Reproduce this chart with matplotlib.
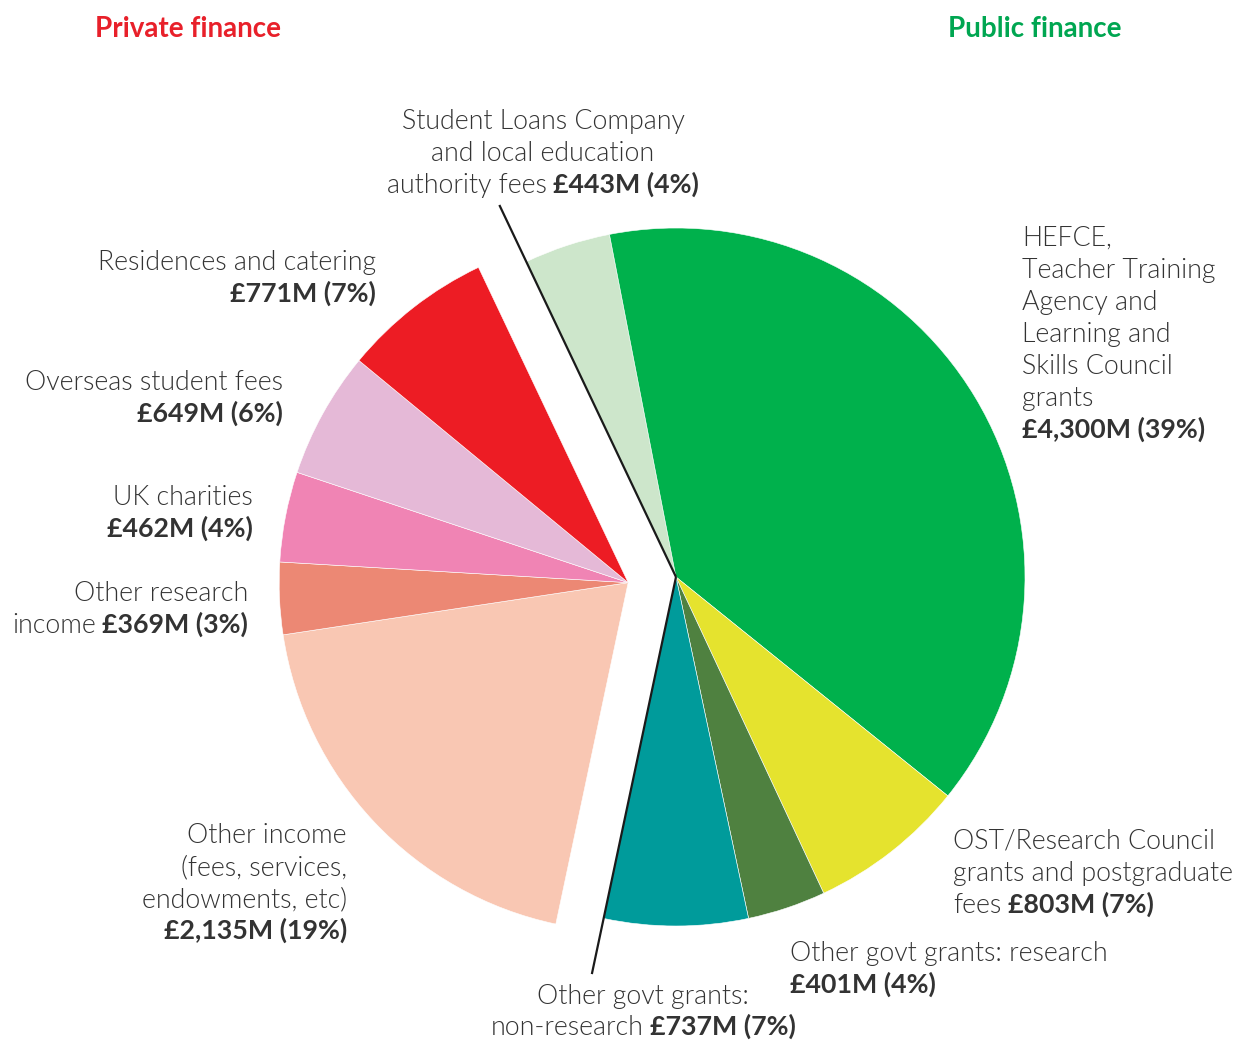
import numpy as np
import matplotlib
matplotlib.use("Agg")
import matplotlib.pyplot as plt

# ---------------- data ----------------
public_labels = ["Student Loans Company and local education authority fees",
                 "HEFCE, Teacher Training Agency and Learning and Skills Council grants",
                 "OST/Research Council grants and postgraduate fees",
                 "Other govt grants: research",
                 "Other govt grants: non-research"]
public_values = [443, 4300, 803, 401, 737]
public_colors = ["#cde6cb", "#00b14c", "#e5e32e", "#4f8140", "#009b9b"]

private_labels = ["Other income (fees, services, endowments, etc)",
                  "Other research income",
                  "UK charities",
                  "Overseas student fees",
                  "Residences and catering"]
private_values = [2135, 369, 462, 649, 771]
private_colors = ["#f9c7b3", "#ec8874", "#f084b4", "#e5b9d7", "#ed1c24"]

percent_public = [4, 39, 7, 4, 7]
percent_private = [19, 3, 4, 6, 7]

# ---------------- layout ----------------
W, H = 1240, 1040
R_PX = 349.0
CX, CY = 676.0, 577.0  # public pie centre in pixel coords (from top)

plt.rcParams['font.family'] = ['Lato', 'DejaVu Sans']
TXT = "#333333"
FS = 19.3

fig = plt.figure(figsize=(W / 100, H / 100), dpi=100)
ax = fig.add_axes([0, 0, 1, 1])
ax.set_xlim(-CX / R_PX, (W - CX) / R_PX)
ax.set_ylim(-(H - CY) / R_PX, CY / R_PX)
ax.set_aspect('equal')
ax.axis('off')


def px(x, y):
    return ((x - CX) / R_PX, (CY - y) / R_PX)


total = sum(public_values) + sum(private_values)
start = 115.4
pub_frac = [v / total for v in public_values]
priv_frac = [v / total for v in private_values]
pub_span = 360 * sum(pub_frac)
priv_start = start - pub_span
priv_mid = np.radians(priv_start - 360 * sum(priv_frac) / 2)
explode = 0.138
priv_center = (explode * np.cos(priv_mid), explode * np.sin(priv_mid))

ax.pie(pub_frac, colors=public_colors, startangle=start, counterclock=False,
       normalize=False, radius=1.0, center=(0, 0),
       wedgeprops=dict(linewidth=0.4, edgecolor='white'))
ax.pie(priv_frac, colors=private_colors, startangle=priv_start, counterclock=False,
       normalize=False, radius=1.0, center=priv_center,
       wedgeprops=dict(linewidth=0.4, edgecolor='white'))
ax.set_xlim(-CX / R_PX, (W - CX) / R_PX)
ax.set_ylim(-(H - CY) / R_PX, CY / R_PX)

# leader lines along the public group's outer edges
for ang, rr in [(start, 1.18), (priv_start, 1.163)]:
    a = np.radians(ang)
    ax.plot([0, rr * np.cos(a)], [0, rr * np.sin(a)], color="#1a1a1a", lw=1.6,
            solid_capstyle='butt', zorder=5)

# titles
ax.text(*px(188, 29), "Private finance", color="#e8202a", fontsize=20,
        fontweight='bold', ha='center', va='center')
ax.text(*px(1035, 29), "Public finance", color="#00a651", fontsize=20,
        fontweight='bold', ha='center', va='center')

renderer = fig.canvas.get_renderer()
GAP = 6.5  # px between normal and bold segments


def line(x, y, segs, ha='left'):
    """segs: list of (text, bold). y: visual centre line in px; baseline = y + 9."""
    arts = []
    widths = []
    for s, b in segs:
        t = ax.text(0, 0, s, fontsize=FS, color=TXT,
                    fontweight='bold' if b else 300, ha='left', va='baseline')
        arts.append(t)
        widths.append(t.get_window_extent(renderer).width)
    total_w = sum(widths) + GAP * (len(segs) - 1)
    if ha == 'left':
        x0 = x
    elif ha == 'right':
        x0 = x - total_w
    else:
        x0 = x - total_w / 2
    cur = x0
    for t, w in zip(arts, widths):
        t.set_position(px(cur, y + 9))
        cur += w + GAP


def block(x, y0, lines, ha='left', step=32):
    for i, segs in enumerate(lines):
        line(x, y0 + i * step, segs, ha)


def money(v, p):
    return f"£{v:,}M ({p}%)"


# Public labels
block(543, 120, [[("Student Loans Company", False)],
                 [("and local education", False)],
                 [("authority fees", False), (money(public_values[0], percent_public[0]), True)]],
      ha='center')
block(1022, 237, [[("HEFCE,", False)],
                  [("Teacher Training", False)],
                  [("Agency and", False)],
                  [("Learning and", False)],
                  [("Skills Council", False)],
                  [("grants", False)],
                  [(money(public_values[1], percent_public[1]), True)]], ha='left')
block(953, 840, [[("OST/Research Council", False)],
                 [("grants and postgraduate", False)],
                 [("fees", False), (money(public_values[2], percent_public[2]), True)]], ha='left')
block(790, 952, [[("Other govt grants: research", False)],
                 [(money(public_values[3], percent_public[3]), True)]], ha='left')
block(643, 995, [[("Other govt grants:", False)],
                 [("non-research", False), (money(public_values[4], percent_public[4]), True)]],
      ha='center', step=31)

# Private labels
block(376, 261, [[("Residences and catering", False)],
                 [(money(private_values[4], percent_private[4]), True)]], ha='right')
block(283, 381, [[("Overseas student fees", False)],
                 [(money(private_values[3], percent_private[3]), True)]], ha='right')
block(253, 496, [[("UK charities", False)],
                 [(money(private_values[2], percent_private[2]), True)]], ha='right')
block(248, 592, [[("Other research", False)],
                 [("income", False), (money(private_values[1], percent_private[1]), True)]],
      ha='right')
block(347, 834, [[("Other income", False)],
                 [("(fees, services,", False)],
                 [("endowments, etc)", False)],
                 [(money(private_values[0], percent_private[0]), True)]], ha='right')

fig.savefig("out.png", dpi=100, facecolor='white')
